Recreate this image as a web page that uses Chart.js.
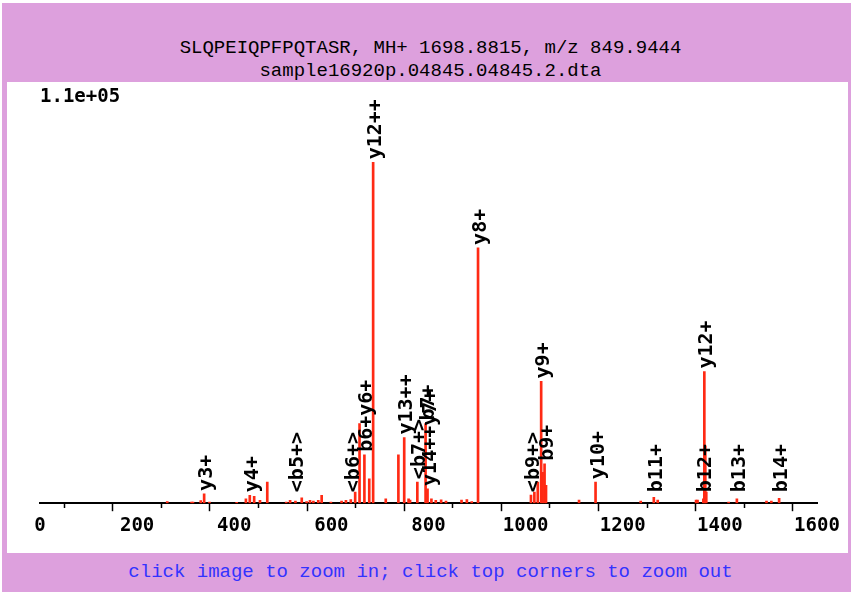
<!DOCTYPE html>
<html lang="en">
<head>
  <meta charset="UTF-8">
  <title>SLQPEIQPFPQTASR spectrum</title>
  <script src="https://cdn.jsdelivr.net/npm/chart.js@4.4.0"></script>
  <style>
    body {
      margin: 0;
      background: #fff;
      width: 853px;
      height: 592px;
      overflow: hidden;
      position: relative;
    }
    .frame {
      position: absolute;
      left: 2px;
      top: 3px;
      width: 849px;
      height: 589px;
      background: #dda0dd;
    }
    .title {
      position: absolute;
      left: 4px;
      width: 853px;
      text-align: center;
      font-family: "Liberation Mono", monospace;
      font-size: 19px;
      line-height: 22px;
      color: #000;
    }
    .panel {
      position: absolute;
      left: 7px;
      top: 82px;
      width: 841px;
      height: 471px;
      background: #fff;
    }
    .footer {
      position: absolute;
      left: 4px;
      top: 561px;
      width: 853px;
      text-align: center;
      font-family: "Liberation Mono", monospace;
      font-size: 19px;
      line-height: 22px;
      color: #3333ff;
    }
  </style>
</head>
<body>
  <div class="frame"></div>
  <div class="title" style="top:37px">SLQPEIQPFPQTASR, MH+ 1698.8815, m/z 849.9444</div>
  <div class="title" style="top:60px">sample16920p.04845.04845.2.dta</div>
  <div class="panel"><canvas id="spectrum" width="841" height="471"></canvas></div>
  <div class="footer">click image to zoom in; click top corners to zoom out</div>

  <script>
    // peak list (m/z, intensity)
    const mz = [262, 312, 315, 331, 338, 349, 405, 424, 432, 441, 453, 468,
      507, 515, 526, 539, 549, 556, 563, 573, 580, 599, 621, 630, 640, 649,
      658, 668, 678, 686, 712, 738, 750, 759, 762, 777, 794, 798, 806, 815,
      826, 836, 868, 879, 889, 902, 1011, 1018, 1025, 1032, 1035, 1039, 1042,
      1110, 1144, 1237, 1264, 1272, 1351, 1354, 1366, 1368, 1370, 1372, 1418,
      1435, 1496, 1506, 1522];
    const intensity = [550, 400, 325, 875, 3000, 325, 250, 1400, 2500, 2200, 900, 6800,
      350, 900, 650, 1700, 550, 900, 650, 900, 2500, 350, 650, 900, 1200, 3600,
      25700, 15600, 7900, 110000, 1400, 15600, 21200, 1400, 1000, 6800, 25700, 4600, 1400, 900,
      1100, 650, 1000, 1200, 550, 82400, 2600, 3600, 6800, 39300, 10000, 12700, 5800,
      1000, 6800, 650, 1900, 1000, 1000, 1000, 1400, 42500, 18500, 3600, 350,
      1400, 650, 650, 1600];

    // fragment annotations, placed on the peak at the given m/z
    const labelText = ['y3+', 'y4+', '<b5+>', '<b6+>', 'b6+y6+', 'y12++', 'y13++',
      '<b7+>', 'b7+', 'y14++y7+', 'y8+', '<b9+>', 'b9+', 'y9+', 'y10+', 'b11+',
      'b12+', 'y12+', 'b13+', 'b14+'];
    const labelMz = [338, 432, 526, 640, 668, 686, 750,
      777, 794, 798, 902, 1011, 1039, 1032, 1144, 1264,
      1366, 1368, 1435, 1522];

    const xTicks = [0, 200, 400, 600, 800, 1000, 1200, 1400, 1600];
    const maxLabel = '1.1e+05';

    const peakLabels = {
      id: 'peakLabels',
      afterDatasetsDraw(chart) {
        const { ctx, scales: { x, y } } = chart;
        ctx.save();
        ctx.fillStyle = '#000';
        ctx.font = 'bold 20px "DejaVu Sans Mono"';
        ctx.textAlign = 'left';
        ctx.textBaseline = 'alphabetic';
        labelText.forEach((t, i) => {
          const px = x.getPixelForValue(labelMz[i]);
          const top = y.getPixelForValue(intensity[mz.indexOf(labelMz[i])]);
          const bottom = Math.min(top - 3, y.bottom - 11);
          ctx.save();
          ctx.translate(px + 8, bottom);
          ctx.rotate(-Math.PI / 2);
          ctx.fillText(t, 0, 0);
          ctx.restore();
        });
        ctx.font = 'bold 19px "DejaVu Sans Mono"';
        ctx.textBaseline = 'middle';
        ctx.fillText(maxLabel, x.left, 15);
        ctx.restore();
      }
    };

    new Chart(document.getElementById('spectrum'), {
      type: 'bar',
      data: {
        datasets: [{
          data: mz.map((m, i) => ({ x: m, y: intensity[i] })),
          backgroundColor: '#ff2a14',
          barThickness: 2
        }]
      },
      options: {
        responsive: false,
        animation: false,
        layout: { padding: { left: 33, right: 31, top: 6, bottom: 13 } },
        plugins: {
          legend: { display: false },
          tooltip: { enabled: false }
        },
        scales: {
          x: {
            type: 'linear',
            min: 0,
            max: 1600,
            offset: false,
            border: { color: '#000', width: 2 },
            grid: {
              drawOnChartArea: false,
              tickLength: 8,
              tickColor: '#000',
              tickWidth: 1.5,
              tickBorderDash: ctx => (ctx.tick && xTicks.includes(ctx.tick.value)) ? [] : [4, 100]
            },
            ticks: {
              stepSize: 100,
              autoSkip: false,
              maxRotation: 0,
              padding: 3,
              color: '#000',
              font: { family: 'DejaVu Sans Mono', size: 19, weight: 'bold' },
              callback: v => xTicks.includes(v) ? String(v) : ''
            }
          },
          y: {
            display: false,
            min: 0,
            max: 134000
          }
        }
      },
      plugins: [peakLabels]
    });
  </script>
</body>
</html>
